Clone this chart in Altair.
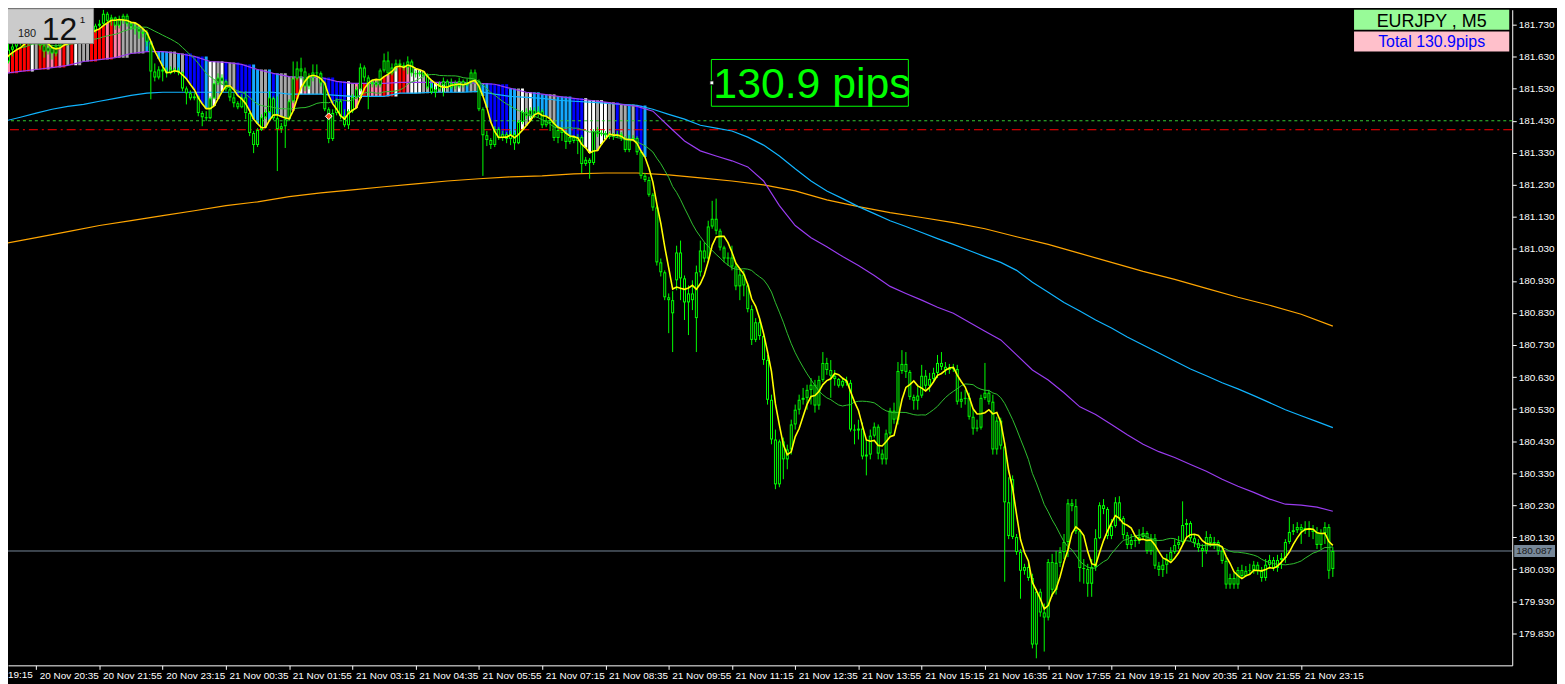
import altair as alt
import pandas as pd
import numpy as np

W, H = 1512, 659

# ---------------- candle data (EURJPY M5, bar 0 = 20 Nov 19:55) ----------------
bar_open = [
181.537,181.615,181.652,181.662,181.677,181.683,181.671,181.690,181.699,181.683,
181.665,181.646,181.659,181.640,181.662,181.677,181.690,181.683,181.702,181.696,
181.708,181.714,181.699,181.711,181.727,181.733,181.764,181.742,181.752,181.727,
181.745,181.758,181.733,181.724,181.718,181.708,181.702,181.671,181.584,181.565,
181.590,181.584,181.578,181.590,181.587,181.581,181.531,181.516,181.500,181.506,
181.454,181.441,181.438,181.500,181.547,181.565,181.553,181.528,181.503,181.485,
181.472,181.503,181.454,181.392,181.354,181.401,181.441,181.457,
181.500,181.438,181.404,181.413,181.435,181.491,181.562,181.593,181.584,181.537,
181.565,181.581,181.578,181.547,181.466,181.373,181.454,181.491,181.444,181.416,
181.460,181.503,181.528,181.596,181.565,181.544,181.550,181.541,181.587,181.618,
181.578,181.596,181.609,181.603,181.596,181.615,181.578,181.575,181.581,181.572,
181.534,181.519,181.528,181.541,181.553,181.534,181.547,181.537,181.553,181.541,
181.550,181.581,181.553,181.466,181.385,181.370,181.354,181.404,181.376,181.388,
181.373,181.388,181.360,181.426,181.457,181.444,181.463,181.450,
181.460,181.416,181.432,181.423,181.376,181.401,181.392,181.364,181.379,181.367,
181.379,181.295,181.308,181.298,181.398,181.388,181.392,181.385,181.379,181.382,
181.388,181.376,181.339,181.373,181.376,181.332,181.258,181.245,181.199,181.159,
180.988,180.957,180.879,180.870,180.932,181.019,180.938,180.863,180.891,180.814,
180.957,181.025,181.000,181.100,181.124,181.087,181.034,181.000,181.003,180.975,
180.913,180.950,180.916,180.842,180.746,180.801,180.758,180.683,180.559,180.435,
180.295,180.429,180.373,180.404,180.482,180.528,180.559,
180.565,180.590,180.606,180.541,180.621,180.674,180.652,180.634,180.624,180.603,
180.618,180.612,180.466,180.463,180.469,180.382,180.388,180.447,180.475,180.391,
180.373,180.454,180.525,180.497,180.649,180.671,180.646,180.568,180.556,180.572,
180.634,180.603,180.624,180.643,180.674,180.662,180.652,180.659,180.655,180.553,
180.562,180.565,180.506,180.469,180.472,180.565,180.581,180.553,180.404,180.494,
180.413,180.239,180.311,180.131,180.084,180.025,180.037,180.003,179.795,179.960,
179.895,179.879,180.053,179.966,180.050,180.084,180.115,180.236,
180.227,180.149,180.034,180.031,179.985,180.037,180.127,180.230,180.218,180.134,
180.165,180.239,180.190,180.137,180.106,180.121,180.118,180.131,180.143,180.087,
180.127,180.041,180.028,180.044,180.059,180.084,180.106,180.115,180.168,180.174,
180.127,180.112,180.096,180.087,180.131,180.112,180.115,180.087,180.056,179.982,
180.003,179.982,180.028,180.009,180.025,180.028,180.044,180.025,180.003,180.044,
180.059,180.034,180.059,180.065,180.115,180.146,180.152,180.162,180.152,180.159,
180.155,180.146,180.106,180.143,180.162,180.031]

bar_high = [
181.662,181.671,181.693,181.699,181.702,181.693,181.708,181.714,181.708,181.693,
181.677,181.671,181.668,181.671,181.690,181.699,181.696,181.708,181.708,181.718,
181.724,181.721,181.718,181.733,181.745,181.777,181.770,181.761,181.755,181.758,
181.764,181.764,181.739,181.733,181.724,181.718,181.714,181.677,181.609,181.600,
181.603,181.596,181.600,181.596,181.596,181.584,181.537,181.525,181.516,181.509,
181.460,181.460,181.506,181.559,181.578,181.575,181.559,181.537,181.516,181.491,
181.513,181.522,181.460,181.398,181.407,181.450,181.466,181.522,
181.506,181.506,181.423,181.444,181.497,181.615,181.615,181.627,181.596,181.578,
181.606,181.606,181.584,181.553,181.472,181.466,181.500,181.497,181.466,181.466,
181.513,181.537,181.609,181.603,181.572,181.559,181.556,181.593,181.640,181.646,
181.609,181.621,181.621,181.612,181.631,181.621,181.587,181.587,181.584,181.578,
181.547,181.537,181.553,181.565,181.559,181.562,181.556,181.565,181.559,181.562,
181.590,181.590,181.559,181.472,181.398,181.376,181.413,181.410,181.398,181.395,
181.398,181.395,181.432,181.463,181.469,181.472,181.472,181.475,
181.466,181.441,181.438,181.429,181.407,181.407,181.398,181.388,181.385,181.388,
181.385,181.317,181.314,181.404,181.410,181.401,181.398,181.395,181.392,181.398,
181.395,181.382,181.385,181.385,181.382,181.336,181.267,181.255,181.205,181.165,
181.000,180.963,180.891,180.898,181.040,181.056,180.947,180.916,180.932,180.978,
181.056,181.050,181.118,181.180,181.187,181.093,181.040,181.019,181.040,180.988,
180.969,180.963,180.923,180.854,180.814,180.808,180.764,180.699,180.575,180.466,
180.435,180.441,180.419,180.497,180.544,180.575,180.596,
180.606,180.627,180.621,180.634,180.708,180.690,180.683,180.652,180.627,180.627,
180.631,180.621,180.482,180.497,180.488,180.435,180.466,180.488,180.482,180.404,
180.466,180.534,180.550,180.677,180.714,180.708,180.652,180.575,180.606,180.668,
180.652,180.643,180.659,180.699,180.708,180.677,180.671,180.671,180.668,180.584,
180.590,180.581,180.528,180.497,180.575,180.674,180.590,180.575,180.506,180.503,
180.426,180.317,180.323,180.140,180.093,180.047,180.056,180.016,179.969,179.969,
179.923,180.062,180.078,180.087,180.099,180.140,180.249,180.249,
180.249,180.155,180.062,180.047,180.062,180.155,180.239,180.249,180.224,180.187,
180.255,180.258,180.196,180.146,180.140,180.137,180.155,180.162,180.149,180.140,
180.140,180.053,180.062,180.078,180.099,180.124,180.134,180.242,180.187,180.180,
180.140,180.124,180.109,180.149,180.140,180.131,180.121,180.099,180.068,180.016,
180.019,180.037,180.044,180.040,180.047,180.056,180.053,180.037,180.062,180.075,
180.068,180.075,180.081,180.124,180.193,180.171,180.177,180.171,180.180,180.180,
180.168,180.162,180.155,180.177,180.171,180.099]

bar_low = [
181.528,181.609,181.631,181.652,181.665,181.659,181.665,181.677,181.671,181.652,
181.627,181.637,181.621,181.631,181.652,181.671,181.665,181.677,181.683,181.690,
181.693,181.686,181.693,181.705,181.721,181.727,181.733,181.727,181.714,181.718,
181.733,181.724,181.714,181.699,181.686,181.690,181.662,181.497,181.553,181.559,
181.553,181.565,181.575,181.578,181.572,181.522,181.481,181.494,181.494,181.444,
181.413,181.429,181.435,181.497,181.541,181.541,181.522,181.491,181.472,181.466,
181.469,181.435,181.382,181.329,181.348,181.398,181.435,181.454,
181.432,181.273,181.392,181.345,181.429,181.485,181.556,181.559,181.522,181.528,
181.553,181.565,181.537,181.460,181.360,181.367,181.447,181.435,181.410,181.404,
181.454,181.497,181.522,181.553,181.466,181.534,181.534,181.534,181.581,181.572,
181.572,181.584,181.593,181.587,181.575,181.568,181.565,181.568,181.565,181.528,
181.513,181.503,181.525,181.506,181.528,181.528,181.528,181.531,181.534,181.537,
181.544,181.547,181.460,181.258,181.351,181.342,181.348,181.370,181.367,181.360,
181.354,181.339,181.357,181.419,181.435,181.438,181.438,181.441,
181.407,181.410,181.398,181.367,181.360,181.367,181.342,181.357,181.360,181.326,
181.267,181.289,181.249,181.292,181.379,181.382,181.376,181.373,181.370,181.376,
181.367,181.332,181.332,181.367,181.323,181.249,181.239,181.193,181.149,180.978,
180.944,180.870,180.767,180.708,180.901,180.870,180.808,180.761,180.839,180.708,
180.944,180.988,180.994,181.093,181.075,181.025,180.988,180.978,180.963,180.901,
180.870,180.882,180.832,180.730,180.739,180.746,180.668,180.544,180.420,180.280,
180.286,180.311,180.342,180.388,180.466,180.513,180.544,
180.528,180.544,180.519,180.528,180.615,180.637,180.565,180.603,180.597,180.597,
180.603,180.460,180.420,180.435,180.373,180.323,180.373,180.441,180.373,180.357,
180.357,180.447,180.484,180.482,180.640,180.627,180.559,180.528,180.528,180.565,
180.590,180.584,180.615,180.627,180.652,180.637,180.640,180.646,180.544,180.534,
180.544,180.497,180.450,180.460,180.466,180.559,180.544,180.388,180.388,180.404,
179.991,180.124,180.124,180.075,179.938,180.013,179.994,179.783,179.752,179.882,
179.773,179.870,179.944,179.951,180.037,180.062,180.068,180.211,
180.140,179.991,179.985,179.944,179.944,180.025,180.124,180.202,180.124,180.124,
180.160,180.180,180.124,180.093,180.093,180.099,180.109,180.124,180.078,180.075,
180.031,180.009,180.006,180.016,180.056,180.078,180.093,180.109,180.131,180.118,
180.099,180.084,180.037,180.078,180.099,180.093,180.075,180.047,179.969,179.969,
179.969,179.969,180.000,180.006,180.013,180.016,180.013,179.991,179.994,180.031,
180.025,180.022,180.031,180.050,180.109,180.137,180.143,180.109,180.140,180.131,
180.124,180.093,180.093,180.109,180.000,180.006]

bar_close = [
181.615,181.652,181.662,181.677,181.683,181.671,181.690,181.699,181.683,181.665,
181.646,181.659,181.640,181.662,181.677,181.690,181.683,181.702,181.696,181.708,
181.714,181.699,181.711,181.727,181.733,181.764,181.742,181.752,181.727,181.745,
181.758,181.733,181.724,181.718,181.708,181.702,181.677,181.584,181.565,181.590,
181.584,181.578,181.590,181.587,181.581,181.531,181.516,181.500,181.506,181.454,
181.441,181.438,181.500,181.547,181.565,181.553,181.528,181.503,181.485,181.472,
181.503,181.454,181.392,181.354,181.401,181.441,181.457,181.503,
181.438,181.404,181.413,181.435,181.491,181.562,181.593,181.584,181.537,181.565,
181.581,181.578,181.547,181.466,181.373,181.454,181.491,181.444,181.416,181.460,
181.503,181.528,181.596,181.565,181.544,181.550,181.541,181.587,181.618,181.578,
181.596,181.609,181.603,181.596,181.615,181.578,181.575,181.581,181.572,181.534,
181.519,181.528,181.541,181.553,181.534,181.547,181.537,181.553,181.541,181.550,
181.581,181.553,181.466,181.385,181.370,181.354,181.404,181.376,181.388,181.373,
181.388,181.360,181.426,181.457,181.444,181.463,181.450,181.460,
181.416,181.432,181.423,181.376,181.401,181.392,181.364,181.379,181.367,181.379,
181.295,181.308,181.298,181.398,181.388,181.392,181.385,181.379,181.382,181.388,
181.376,181.339,181.373,181.376,181.332,181.258,181.245,181.199,181.159,180.988,
180.957,180.879,180.870,180.829,181.019,180.938,180.863,180.891,180.870,180.957,
181.025,181.000,181.100,181.124,181.087,181.034,181.000,181.003,180.975,180.913,
180.950,180.916,180.842,180.746,180.801,180.758,180.683,180.559,180.435,180.295,
180.429,180.373,180.404,180.482,180.528,180.559,180.565,
180.590,180.606,180.541,180.621,180.674,180.652,180.634,180.624,180.603,180.618,
180.612,180.466,180.463,180.469,180.382,180.388,180.447,180.475,180.391,180.373,
180.454,180.525,180.497,180.649,180.671,180.646,180.568,180.556,180.572,180.634,
180.603,180.624,180.643,180.674,180.662,180.652,180.659,180.655,180.553,180.562,
180.565,180.506,180.469,180.472,180.565,180.581,180.553,180.404,180.494,180.416,
180.239,180.134,180.131,180.084,180.025,180.037,180.003,179.795,179.960,179.895,
179.879,180.053,179.966,180.050,180.084,180.115,180.236,180.227,
180.149,180.034,180.031,179.985,180.037,180.127,180.230,180.218,180.134,180.165,
180.239,180.190,180.137,180.106,180.121,180.118,180.131,180.143,180.087,180.127,
180.041,180.028,180.044,180.059,180.084,180.106,180.115,180.168,180.174,180.127,
180.112,180.096,180.087,180.131,180.112,180.115,180.087,180.056,179.982,180.003,
179.982,180.028,180.009,180.025,180.028,180.044,180.025,180.003,180.044,180.059,
180.034,180.059,180.065,180.115,180.146,180.152,180.162,180.152,180.159,180.155,
180.146,180.106,180.143,180.162,180.025,180.087]

# ---------------- moving averages ----------------
purple_ma = [  # one value every 4 bars
181.578,181.584,181.590,181.596,181.603,181.615,181.621,181.627,181.640,181.646,
181.646,181.640,181.631,181.615,181.612,181.606,181.590,181.578,181.568,181.565,
181.565,181.553,181.547,181.547,181.547,181.550,181.550,181.550,181.550,181.550,
181.547,181.544,181.531,181.519,181.513,181.506,181.500,181.494,181.488,181.481,
181.475,181.460,181.413,181.367,181.336,181.320,181.305,181.286,181.242,181.165,
181.103,181.065,181.037,181.006,180.978,180.947,180.913,180.891,180.870,180.848,
180.829,180.801,180.773,180.746,180.699,180.652,180.621,180.581,180.537,180.513,
180.482,180.450,180.420,180.397,180.379,180.357,180.336,180.311,180.289,180.270,
180.249,180.233,180.230,180.224,180.211]
cyan_ma = [  # one value every 4 bars
181.429,181.441,181.454,181.466,181.475,181.481,181.491,181.500,181.509,181.516,
181.519,181.519,181.519,181.519,181.519,181.519,181.519,181.519,181.513,181.513,
181.513,181.509,181.506,181.506,181.506,181.516,181.516,181.519,181.519,181.519,
181.522,181.513,181.506,181.503,181.500,181.494,181.491,181.488,181.485,181.481,
181.478,181.466,181.450,181.435,181.416,181.407,181.398,181.379,181.354,181.320,
181.280,181.242,181.211,181.187,181.162,181.140,181.118,181.100,181.081,181.062,
181.044,181.025,181.006,180.988,180.963,180.926,180.895,180.863,180.836,180.808,
180.783,180.755,180.730,180.705,180.680,180.655,180.634,180.612,180.593,180.572,
180.550,180.528,180.509,180.491,180.472]
orange_ma = [  # one value every 8 bars
181.047,181.065,181.084,181.103,181.118,181.134,181.149,181.165,181.177,181.193,
181.205,181.214,181.224,181.233,181.242,181.249,181.255,181.258,181.264,181.267,
181.267,181.261,181.252,181.242,181.230,181.211,181.183,181.162,181.143,181.128,
181.112,181.093,181.068,181.044,181.016,180.988,180.960,180.935,180.907,180.879,
180.854,180.826,180.789]

# colour state of the trend histogram (bars 0..162)
hist_state = list(
    "PPRRRRRWGRRPPRPRGRWGGGRRRRPRPPGGGGGG"
    "CCCCCCGGCGBBBBBCWWGWBGGBBBBCCGGC"
    "BCGGGPRWPWGGGBBBBBBWGPWRPPPPRPRWRRPWWWGGCWGWGCGWGCGGCCCBBBBBCCGWGWCC"
    "CCGGCCCCBBBWWWGWWGGBGGCGBBC")
state_codes = ["R", "P", "W", "G", "B", "C"]
state_colors = ["#ff0000", "#ff80a8", "#ffffff", "#a8a8a8", "#0000ff", "#14a8ff"]

tick_bars = [8, 24, 40, 56, 72, 88, 104, 120, 136, 152, 168, 184, 200, 216, 232,
             248, 264, 280, 296, 312, 328]
tick_labels = ["20 Nov 20:35", "20 Nov 21:55", "20 Nov 23:15", "21 Nov 00:35",
               "21 Nov 01:55", "21 Nov 03:15", "21 Nov 04:35", "21 Nov 05:55",
               "21 Nov 07:15", "21 Nov 08:35", "21 Nov 09:55", "21 Nov 11:15",
               "21 Nov 12:35", "21 Nov 13:55", "21 Nov 15:15", "21 Nov 16:35",
               "21 Nov 17:55", "21 Nov 19:15", "21 Nov 20:35", "21 Nov 21:55",
               "21 Nov 23:15"]
first_label = "19:15"
price_ticks = [181.730, 181.630, 181.530, 181.430, 181.330, 181.230, 181.130,
               181.030, 180.930, 180.830, 180.730, 180.630, 180.530, 180.430,
               180.330, 180.230, 180.130, 180.030, 179.930, 179.830]
level_green = 181.430
level_red = 181.402
bid_price = 180.087
arrow_bar, arrow_price = 82, 181.444

# ---------------- frames ----------------
n = len(bar_close)
df = pd.DataFrame({"i": np.arange(n), "open": bar_open, "high": bar_high,
                   "low": bar_low, "close": bar_close})
df["btop"] = df[["open", "close"]].max(axis=1)
df["bbot"] = df[["open", "close"]].min(axis=1)
df["fast"] = df["close"].rolling(5, min_periods=1).mean()
df["mid"] = df["close"].rolling(20, min_periods=1).mean()

PX = (181.7766 - 179.7300) / H          # price per pixel
inner = df[(df["btop"] - df["bbot"]) > 2.5 * PX].copy()
inner["itop"] = inner["btop"] - PX
inner["ibot"] = inner["bbot"] + PX

ma4 = pd.DataFrame({"i": np.arange(0, n, 4), "purple": purple_ma, "cyan": cyan_ma})
ma8 = pd.DataFrame({"i": np.arange(0, n, 8), "orange": orange_ma})

hd = df.iloc[:len(hist_state)][["i", "fast"]].copy()
hd["state"] = hist_state
hd["p"] = [purple_ma[k // 4] for k in hd["i"]]
hd["c"] = [cyan_ma[k // 4] for k in hd["i"]]
lo, hi = [], []
for k, f, p, c in zip(hd["i"], hd["fast"], hd["p"], hd["c"]):
    vals = [f, p] if k < 68 else [f, p, c]
    lo.append(min(vals)); hi.append(max(vals))
hd["lo"] = lo
hd["hi"] = hi

# ---------------- scales & axes ----------------
FONT = "Liberation Sans"
xs = alt.Scale(domain=[2.125, 380.125], nice=False, zero=False)
ys = alt.Scale(domain=[179.7300, 181.7766], nice=False, zero=False)
label_expr = "[" + ",".join("'%s'" % t for t in tick_labels) + "][round((datum.value-8)/16)]"
x_axis = alt.Axis(values=tick_bars, labelExpr=label_expr, labelAlign="left",
                  labelBaseline="top", labelOffset=3, labelPadding=1, tickSize=4,
                  tickColor="white", domainColor="white", labelColor="white",
                  labelFont=FONT, labelFontSize=10, grid=False, title=None,
                  labelOverlap=False, labelFlush=False, labelBound=False)
y_axis = alt.Axis(orient="right", values=price_ticks, format=".3f", tickSize=4,
                  tickColor="white", domainColor="white", labelColor="white",
                  labelFont=FONT, labelFontSize=10, labelPadding=2, grid=False,
                  title=None, labelOverlap=False, labelFlush=False)

def XQ(field="i"):
    return alt.X(field + ":Q", scale=xs, axis=x_axis)

def YQ(field):
    return alt.Y(field + ":Q", scale=ys, axis=y_axis)

hist = alt.Chart(hd).mark_bar(size=3, clip=True).encode(
    x=XQ(), y=YQ("lo"), y2="hi:Q",
    color=alt.Color("state:N", scale=alt.Scale(domain=state_codes, range=state_colors), legend=None))

def hline(value, color, dash=None, width=1):
    kw = dict(color=color, strokeWidth=width)
    if dash:
        kw["strokeDash"] = dash
    return alt.Chart(pd.DataFrame({"v": [value]})).mark_rule(**kw).encode(y=YQ("v"))

green_lvl = hline(level_green, "#32cd32", [3, 3])
red_lvl = hline(level_red, "#ff0000", [9, 4, 2, 4])
bid_lvl = hline(bid_price, "#778899")

orange = alt.Chart(ma8).mark_line(color="#ffa500", strokeWidth=1.2, clip=True).encode(
    x=XQ(), y=YQ("orange"))
cyan = alt.Chart(ma4).mark_line(color="#10b4ff", strokeWidth=1.2, clip=True).encode(
    x=XQ(), y=YQ("cyan"))
purple = alt.Chart(ma4).mark_line(color="#9a3cf0", strokeWidth=1.2, clip=True).encode(
    x=XQ(), y=YQ("purple"))

wick = alt.Chart(df).mark_rule(color="#00ff00", strokeWidth=1, clip=True).encode(
    x=XQ(), y=YQ("low"), y2="high:Q")
body = alt.Chart(df).mark_bar(size=3, color="#00ff00", clip=True).encode(
    x=XQ(), y=YQ("bbot"), y2="btop:Q")
hollow = alt.Chart(inner).mark_rule(color="black", strokeWidth=1, clip=True).encode(
    x=XQ(), y=YQ("ibot"), y2="itop:Q")

mid_line = alt.Chart(df).mark_line(color="#2fbf2f", strokeWidth=1, clip=True).encode(
    x=XQ(), y=YQ("mid"))
fast_line = alt.Chart(df).mark_line(color="#ffff00", strokeWidth=1.6, clip=True).encode(
    x=XQ(), y=YQ("fast"))

arrow = alt.Chart(pd.DataFrame({"i": [arrow_bar], "p": [arrow_price]})).mark_point(
    shape="diamond", filled=True, fill="#ff4a1a", stroke="white", strokeWidth=1,
    size=45, opacity=1).encode(x=XQ(), y=YQ("p"))

one = pd.DataFrame({"a": [0]})

def box(x1, x2, y1, y2, fill, stroke=None):
    kw = dict(fill=fill)
    if stroke:
        kw.update(stroke=stroke, strokeWidth=1)
    return alt.Chart(one).mark_rect(**kw).encode(
        x=alt.value(x1), x2=alt.value(x2), y=alt.value(y1), y2=alt.value(y2))

def label(txt, x, y, size, color, align="left", baseline="alphabetic"):
    return alt.Chart(pd.DataFrame({"t": [txt]})).mark_text(
        align=align, baseline=baseline, font=FONT, fontSize=size, color=color).encode(
        x=alt.value(x), y=alt.value(y), text="t:N")

# MT4 overlay objects (pixel positions inside the plot area)
pips_box = box(707, 905, 50, 97, "transparent", "#00ff00")
pips_pin = box(705.5, 709.5, 71.5, 75.5, "white", "black")
pips_txt = label("130.9 pips", 709, 89, 43, "#00ff00")

sym_box = box(1353, 1509, 0, 20, "#98fb98")
sym_txt = label("EURJPY , M5", 1431, 17, 18, "black", align="center")
tot_box = box(1353, 1509, 22, 42, "#ffc0cb")
tot_txt = label("Total  130.9pips", 1431, 37.5, 16, "#0000ff", align="center")

tl_box = box(-6, 86, -1, 34, "#cbcbcb", "#8c8c8c")
tl_180 = label("180", 10, 27, 11, "#202020")
tl_12 = label("12", 34, 30, 32, "#111111")
tl_1 = label("1", 72, 13, 10, "#111111")

cut_label = label(first_label, 0, H + 5, 10, "white", baseline="top")

bid_bg = alt.Chart(pd.DataFrame({"a": [bid_price + 6 * PX], "b": [bid_price - 6 * PX]})).mark_rect(
    fill="#778899").encode(x=alt.value(W + 2), x2=alt.value(W + 43), y=YQ("a"), y2="b:Q")
bid_txt = alt.Chart(pd.DataFrame({"p": [bid_price], "t": ["180.087"]})).mark_text(
    align="left", baseline="middle", font=FONT, fontSize=10, color="#1a1a1a").encode(
    x=alt.value(W + 4), y=YQ("p"), text="t:N")

chart = alt.layer(
    hist, green_lvl, red_lvl, orange, cyan, purple, bid_lvl, wick, body, hollow,
    mid_line, fast_line, arrow, pips_box, pips_pin, pips_txt, sym_box, sym_txt,
    tot_box, tot_txt, tl_box, tl_180, tl_12, tl_1, cut_label, bid_bg, bid_txt
).properties(
    width=W, height=H, background="black",
    autosize=alt.AutoSizeParams(type="none"),
    padding={"left": 0, "top": 0, "right": 45, "bottom": 17},
).configure_view(stroke=None)

chart.save("out.html", embed_options={"renderer": "svg", "actions": False})
